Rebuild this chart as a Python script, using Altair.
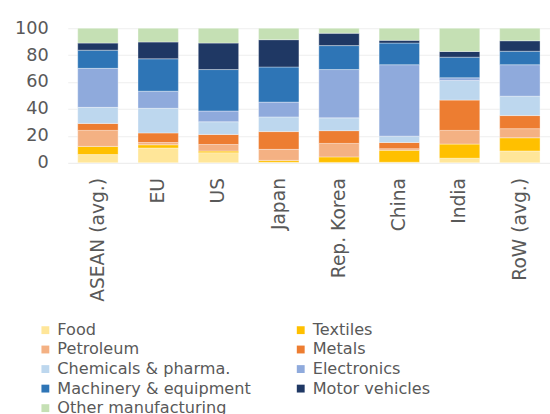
import altair as alt
import pandas as pd

# Regions on the x axis
regions = ["ASEAN (avg.)", "EU", "US", "Japan", "Rep. Korea", "China", "India", "RoW (avg.)"]

# Sector shares of manufacturing (percent), one list per sector, in region order
food        = [6.1, 11.0, 7.5, 0.4, 0.3, 0.4, 3.4, 8.8]
textiles    = [6.1, 2.4, 1.2, 1.4, 4.1, 8.9, 10.5, 9.8]
petroleum   = [11.9, 1.7, 4.9, 8.2, 10.0, 1.2, 10.2, 6.8]
metals      = [5.2, 7.1, 7.5, 13.2, 9.5, 4.6, 22.5, 9.7]
chemicals   = [11.9, 18.3, 9.4, 10.9, 9.5, 4.7, 14.6, 14.4]
electronics = [29.0, 12.7, 8.0, 11.0, 35.9, 53.1, 2.0, 23.4]
machinery   = [13.5, 24.1, 30.8, 26.1, 17.8, 16.1, 15.3, 10.0]
motor       = [5.3, 12.5, 19.7, 20.3, 9.2, 2.0, 4.2, 7.8]
other       = [11.0, 10.2, 11.0, 8.5, 3.7, 9.0, 17.3, 9.3]

sectors = ["Food", "Textiles", "Petroleum", "Metals", "Chemicals & pharma.",
           "Electronics", "Machinery & equipment", "Motor vehicles", "Other manufacturing"]
series = [food, textiles, petroleum, metals, chemicals, electronics, machinery, motor, other]
colors = ["#FFE699", "#FFC000", "#F4B183", "#ED7D31", "#BDD7EE",
          "#8FAADC", "#2E75B6", "#1F3864", "#C5E0B4"]

rows = []
for k, (name, vals) in enumerate(zip(sectors, series)):
    for r, v in zip(regions, vals):
        rows.append({"region": r, "sector": name, "share": v, "order": k})
df = pd.DataFrame(rows)

FONT = "DejaVu Sans"
GREY = "#595959"

chart = alt.Chart(df).mark_bar(stroke="white", strokeWidth=0.6, strokeOpacity=0.6).encode(
    x=alt.X("region:N", sort=regions, title=None,
            scale=alt.Scale(paddingInner=0.33, paddingOuter=0.165),
            axis=alt.Axis(labelAngle=270, labelFontSize=19, labelColor=GREY, labelFont=FONT,
                          ticks=False, domain=False, labelPadding=15, labelAlign="right",
                          labelBaseline="middle", labelLimit=300)),
    y=alt.Y("share:Q", stack="zero", title=None,
            scale=alt.Scale(domain=[0, 100], nice=False),
            axis=alt.Axis(values=[0, 20, 40, 60, 80, 100], labelFontSize=18, labelColor=GREY,
                          labelFont=FONT, ticks=False, domain=False, labelPadding=20,
                          gridColor="#EEEEEE", gridWidth=1.2)),
    color=alt.Color("sector:N", sort=sectors,
                    scale=alt.Scale(domain=sectors, range=colors),
                    legend=alt.Legend(title=None, orient="none", legendX=-31, legendY=299,
                                      direction="horizontal", columns=2, columnPadding=42,
                                      rowPadding=2.9,
                                      symbolType="square", symbolSize=64, symbolStrokeWidth=0,
                                      labelFontSize=16.4, labelColor=GREY, labelFont=FONT,
                                      labelOffset=4, labelLimit=300)),
    order=alt.Order("order:Q", sort="ascending"),
).properties(
    width=491, height=137,
    autosize=alt.AutoSizeParams(type="none"),
    padding={"left": 69, "top": 25, "right": 0, "bottom": 252},
).configure_view(stroke=None)

chart.save("out.html", embed_options={"renderer": "svg", "actions": False})
